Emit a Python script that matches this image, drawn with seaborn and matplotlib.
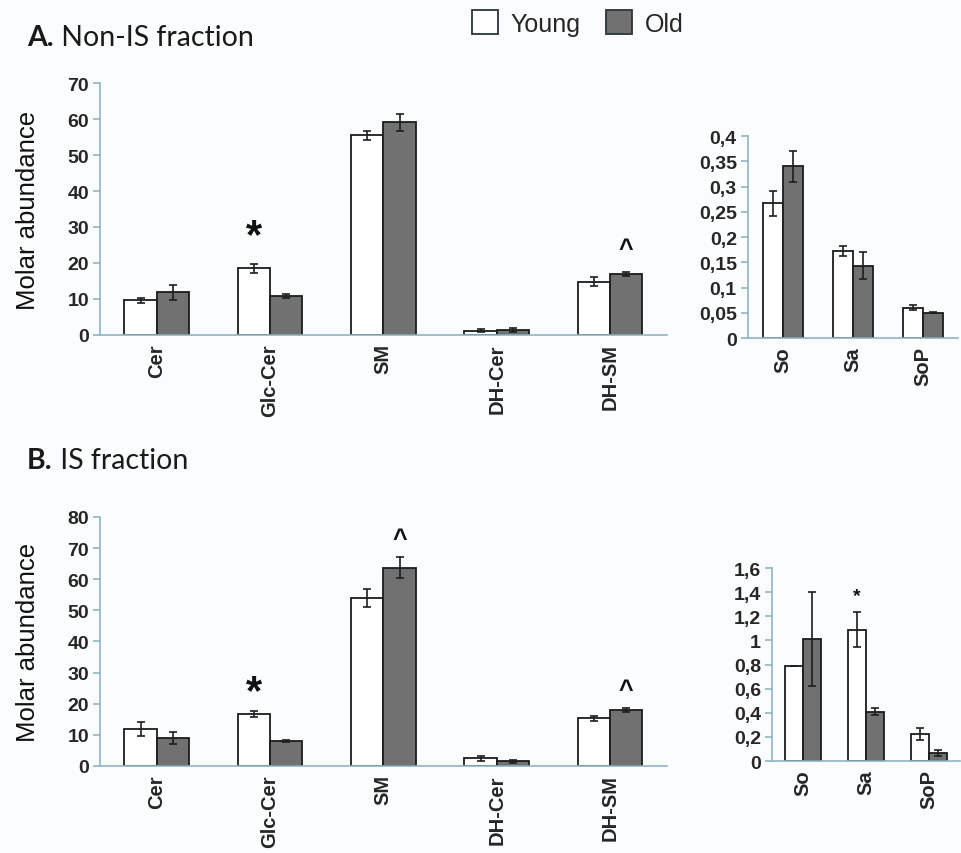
import numpy as np
import pandas as pd
import matplotlib
matplotlib.use("Agg")
import matplotlib.pyplot as plt
from matplotlib.patches import Patch
from matplotlib.ticker import FixedLocator, FuncFormatter, MultipleLocator
import seaborn as sns

sns.set_theme(style="white")
plt.rcParams["font.family"] = ["Liberation Sans", "DejaVu Sans"]

# ---- data ---------------------------------------------------------------
groups = ["Young", "Old"]
lipids = ["Cer", "Glc-Cer", "SM", "DH-Cer", "DH-SM"]
bases = ["So", "Sa", "SoP"]

# A. Non-IS fraction
a_lipid_young = [9.7, 18.5, 55.5, 1.2, 14.8]
a_lipid_young_err = [0.7, 1.2, 1.2, 0.5, 1.2]
a_lipid_old = [11.8, 10.8, 59.1, 1.3, 17.0]
a_lipid_old_err = [2.0, 0.5, 2.4, 0.5, 0.6]

a_base_young = [0.267, 0.172, 0.060]
a_base_young_err = [0.025, 0.010, 0.005]
a_base_old = [0.340, 0.143, 0.050]
a_base_old_err = [0.030, 0.027, 0.001]

# B. IS fraction
b_lipid_young = [11.9, 16.6, 54.0, 2.5, 15.3]
b_lipid_young_err = [2.2, 1.0, 2.8, 0.8, 0.8]
b_lipid_old = [9.0, 8.0, 63.7, 1.5, 17.9]
b_lipid_old_err = [1.9, 0.3, 3.3, 0.5, 0.6]

b_base_young = [0.785, 1.09, 0.225]
b_base_young_err = [0.0, 0.145, 0.05]
b_base_old = [1.015, 0.41, 0.07]
b_base_old_err = [0.39, 0.03, 0.025]

# ---- style ----------------------------------------------------------------
BG = "#fbfcfd"
AXIS = "#8fb3c4"
EDGE = "#1c1c1c"
FILLS = {"Young": "white", "Old": "#717171"}


def comma(v, _pos=None):
    s = f"{v:.2f}".rstrip("0").rstrip(".")
    return s.replace(".", ",")


def draw_panel(ax, cats, young, young_err, old, old_err, ymax, ystep):
    df = pd.DataFrame({
        "cat": list(cats) * 2,
        "group": ["Young"] * len(cats) + ["Old"] * len(cats),
        "value": list(young) + list(old),
    })
    sns.barplot(data=df, x="cat", y="value", hue="group", hue_order=groups,
                palette=FILLS, width=0.57, errorbar=None, saturation=1,
                edgecolor=EDGE, linewidth=1.3, legend=False, ax=ax)
    for cont, errs in zip(ax.containers, [young_err, old_err]):
        xs = [b.get_x() + b.get_width() / 2 for b in cont]
        ys = [b.get_height() for b in cont]
        ax.errorbar(xs, ys, yerr=errs, fmt="none", ecolor="#1e1e1e",
                    elinewidth=1.2, capsize=3.2, capthick=1.2, zorder=5)

    n = len(cats)
    ax.set_facecolor(BG)
    ax.set_xlim(-0.5, n - 0.5)
    ax.set_ylim(0, ymax)
    ax.yaxis.set_major_locator(MultipleLocator(ystep))
    ax.yaxis.set_major_formatter(FuncFormatter(comma))
    ax.xaxis.set_minor_locator(FixedLocator(np.arange(-0.5, n, 1.0)))
    ax.set_xlabel("")
    ax.set_ylabel("")
    sns.despine(ax=ax)
    for side in ("left", "bottom"):
        ax.spines[side].set_color(AXIS)
        ax.spines[side].set_linewidth(1.2)
    ax.tick_params(axis="x", which="major", length=0, pad=6)
    ax.tick_params(axis="x", which="minor", length=5, width=1.2,
                   color=AXIS, direction="out")
    ax.tick_params(axis="y", which="major", length=5, width=1.2,
                   color=AXIS, direction="out", left=True, pad=3)
    for lab in ax.get_xticklabels():
        lab.set_rotation(90)
        lab.set_fontsize(14.5)
        lab.set_fontweight("bold")
        lab.set_va("top")
        lab.set_ha("center")
    for lab in ax.get_yticklabels():
        lab.set_fontsize(14)
        lab.set_fontweight("bold")


def mark(ax, hue_idx, cat_idx, y, text, size):
    bar = ax.containers[hue_idx][cat_idx]
    x = bar.get_x() + bar.get_width() / 2
    ax.text(x, y, text, ha="center", va="center", fontsize=size,
            fontweight="bold", color="#111111")


fig = plt.figure(figsize=(9.62, 8.54), dpi=100, facecolor=BG)

ax_a = fig.add_axes([0.104, 0.6066, 0.589, 0.295])
ax_a2 = fig.add_axes([0.7775, 0.603, 0.218, 0.2365])
ax_b = fig.add_axes([0.104, 0.1019, 0.589, 0.2916])
ax_b2 = fig.add_axes([0.8025, 0.1077, 0.1955, 0.226])

draw_panel(ax_a, lipids, a_lipid_young, a_lipid_young_err,
           a_lipid_old, a_lipid_old_err, 70, 10)
draw_panel(ax_a2, bases, a_base_young, a_base_young_err,
           a_base_old, a_base_old_err, 0.4, 0.05)
draw_panel(ax_b, lipids, b_lipid_young, b_lipid_young_err,
           b_lipid_old, b_lipid_old_err, 80, 10)
draw_panel(ax_b2, bases, b_base_young, b_base_young_err,
           b_base_old, b_base_old_err, 1.6, 0.2)

for ax in (ax_a, ax_b):
    ax.set_ylabel("Molar abundance", fontsize=18.5, color="#111111")
    ax.yaxis.set_label_coords(-0.106, 0.5)

# significance marks
mark(ax_a, 0, 1, 27.5, "*", 30)
mark(ax_a, 1, 4, 23.9, "^", 18)
mark(ax_b, 0, 1, 23.8, "*", 30)
mark(ax_b, 1, 2, 73.0, "^", 18)
mark(ax_b, 1, 4, 24.5, "^", 18)
mark(ax_b2, 0, 1, 1.37, "*", 14)

# panel headings: bold letter followed by regular text
renderer = fig.canvas.get_renderer()
for y, letter, rest in [(1 - 38 / 854, "A.", " Non-IS fraction"),
                        (1 - 461 / 854, "B.", " IS fraction")]:
    t = fig.text(27 / 962, y, letter, fontsize=20.5, fontweight="bold",
                 family=["Lato", "DejaVu Sans"], va="center", ha="left",
                 color="#1a1a1a")
    bb = t.get_window_extent(renderer=renderer)
    fig.text(bb.x1 / fig.bbox.width, y, rest, fontsize=20.5,
             family=["Lato", "DejaVu Sans"], va="center", ha="left",
             color="#1a1a1a")

# shared legend
handles = [Patch(facecolor=FILLS[g], edgecolor="#2a3535", linewidth=1.3)
           for g in groups]
fig.legend(handles, groups, loc="center left",
           bbox_to_anchor=(472 / 962, 1 - 24 / 854), ncol=2, frameon=False,
           fontsize=18, handlelength=1.05, handleheight=1.05,
           handletextpad=0.5, columnspacing=1.0, borderpad=0,
           borderaxespad=0)

fig.savefig("out.png", dpi=100, facecolor=BG)
